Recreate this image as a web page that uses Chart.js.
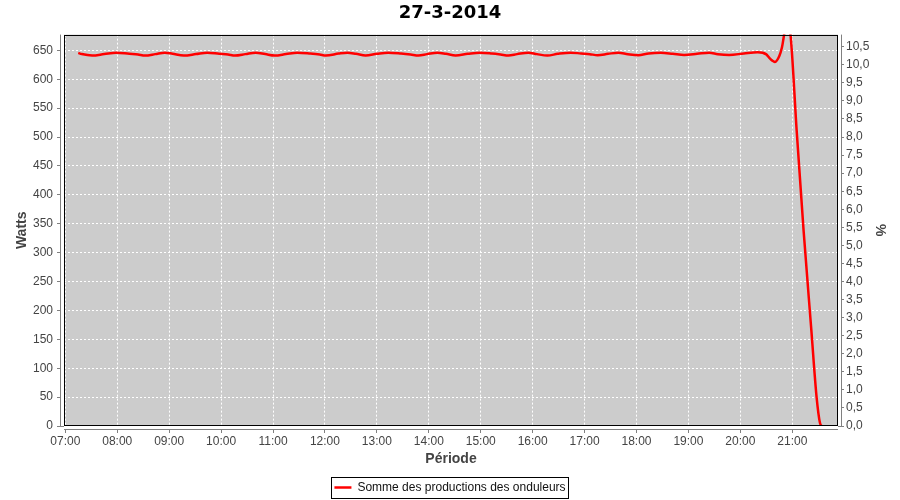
<!DOCTYPE html>
<html>
<head>
<meta charset="utf-8">
<script src="https://cdn.jsdelivr.net/npm/chart.js@4"></script>
<style>
  body { margin: 0; background: #fff; }
  canvas { display: block; }
</style>
</head>
<body>
<canvas id="prod-chart" width="900" height="500"></canvas>
<script>
const chartTitle = "27-3-2014";
const seriesLabel = "Somme des productions des onduleurs";

const hourTicks = [
  "07:00", "08:00", "09:00", "10:00", "11:00", "12:00", "13:00", "14:00",
  "15:00", "16:00", "17:00", "18:00", "19:00", "20:00", "21:00",
];

const times = [
  "07:15", "07:19", "07:31", "07:45", "07:59", "08:14", "08:24", "08:32",
  "08:44", "08:55", "09:04", "09:17", "09:31", "09:44", "09:58", "10:08",
  "10:16", "10:28", "10:40", "10:51", "11:02", "11:15", "11:28", "11:43",
  "11:54", "12:01", "12:16", "12:26", "12:36", "12:47", "13:00", "13:13",
  "13:28", "13:39", "13:48", "13:58", "14:10", "14:20", "14:31", "14:45",
  "14:59", "15:13", "15:23", "15:32", "15:42", "15:55", "16:05", "16:17",
  "16:29", "16:44", "16:56", "17:06", "17:15", "17:27", "17:39", "17:50",
  "18:02", "18:14", "18:28", "18:42", "18:55", "19:10", "19:24", "19:34",
  "19:47", "20:04", "20:20", "20:30", "20:34", "20:40", "20:45", "20:48",
  "20:54", "20:58", "21:05", "21:13", "21:22", "21:28", "21:32", "21:34",
];

const watts = [
  645.5, 643.5, 641, 643.5, 646, 644, 642.8, 641,
  643.4, 646, 644, 641, 643.5, 646, 644, 642.8,
  641, 643.4, 646, 643.5, 641, 643.5, 646, 644.5,
  642.8, 641, 644.5, 646, 643.9, 641, 643.9, 646,
  644.5, 642.8, 641, 643.4, 646, 643.9, 641, 643.9,
  646, 644.5, 642.8, 641, 643.4, 646, 643.4, 641,
  643.9, 646, 644.5, 643.4, 641.6, 643.9, 646, 643.4,
  641.6, 644.5, 645.6, 643.9, 642, 643.9, 646, 643.4,
  642, 644.5, 646.5, 643, 636, 630, 640, 655,
  700, 676, 512, 339, 166, 51, 5, 0,
];

const toMin = (hhmm) => {
  const [h, m] = hhmm.split(":").map(Number);
  return h * 60 + m;
};
const fmtTime = (v) => {
  const h = Math.floor(v / 60);
  const m = Math.round(v - h * 60);
  return String(h).padStart(2, "0") + ":" + String(m).padStart(2, "0");
};

// gray plot background, offset axis lines, black frame, legend frame
const plotFrame = {
  id: "plotFrame",
  beforeDraw(chart) {
    const { ctx, chartArea: a } = chart;
    ctx.save();
    ctx.fillStyle = "#cccccc";
    ctx.fillRect(a.left, a.top, a.width, a.height);
    ctx.restore();
  },
  afterDraw(chart) {
    const { ctx, chartArea: a } = chart;
    ctx.save();
    ctx.fillStyle = "#fff";
    ctx.fillRect(a.left - 4, a.top, 4, a.height);
    ctx.fillRect(a.right, a.top, 4, a.height);
    ctx.fillRect(a.left, a.bottom, a.width, 4);

    ctx.lineWidth = 1;
    ctx.strokeStyle = "#808080";
    ctx.beginPath();
    ctx.moveTo(a.left - 3.5, a.top);
    ctx.lineTo(a.left - 3.5, a.bottom);
    ctx.moveTo(a.right + 3.5, a.top);
    ctx.lineTo(a.right + 3.5, a.bottom);
    ctx.moveTo(a.left, a.bottom + 3.5);
    ctx.lineTo(a.right, a.bottom + 3.5);
    ctx.stroke();

    ctx.strokeStyle = "#000";
    ctx.strokeRect(Math.round(a.left) + 0.5, Math.round(a.top) + 0.5,
      Math.round(a.width) - 1, Math.round(a.height) - 1);

    const hb = chart.legend.legendHitBoxes[0];
    if (hb) {
      ctx.strokeRect(Math.round(hb.left) - 2.5, Math.round(hb.top) - 4.5,
        Math.round(hb.width) + 6, Math.round(hb.height) + 9);
    }
    ctx.restore();
  },
};

Chart.defaults.font.family = "'Liberation Sans', Arial, sans-serif";
Chart.defaults.font.size = 12;
Chart.defaults.color = "#444";

const ctx = document.getElementById("prod-chart").getContext("2d");
new Chart(ctx, {
  type: "line",
  data: {
    datasets: [
      {
        label: seriesLabel,
        data: times.map((t, i) => ({ x: toMin(t), y: watts[i] })),
        borderColor: "#ff0000",
        backgroundColor: "#ff0000",
        borderWidth: 2.5,
        pointRadius: 0,
        cubicInterpolationMode: "monotone",
        clip: { left: 5, top: 0, right: 5, bottom: 3 },
        yAxisID: "y",
      },
    ],
  },
  options: {
    responsive: false,
    animation: false,
    devicePixelRatio: 1,
    layout: { padding: { top: 0, left: 0, right: 0, bottom: -3.5 } },
    plugins: {
      title: {
        display: true,
        text: chartTitle,
        color: "#000",
        font: { family: "'DejaVu Sans', sans-serif", size: 18, weight: "bold" },
        padding: { top: 2.5, bottom: 10.5 },
      },
      legend: {
        position: "bottom",
        labels: {
          usePointStyle: true,
          pointStyle: "line",
          pointStyleWidth: 17,
          padding: 0,
          color: "#111",
          font: { size: 12 },
        },
      },
      tooltip: { enabled: false },
    },
    scales: {
      x: {
        type: "linear",
        min: 418.5,
        max: 1312.8,
        afterBuildTicks: (scale) => {
          scale.ticks = hourTicks.map((h) => ({ value: toMin(h) }));
        },
        afterFit: (scale) => {
          scale.height = 55.5;
        },
        ticks: {
          callback: (v) => fmtTime(v),
          padding: 1,
          maxRotation: 0,
          autoSkip: false,
        },
        grid: {
          color: "#ffffff",
          tickColor: "#808080",
          tickLength: 7,
          tickBorderDash: [],
        },
        border: { display: false, dash: [2, 2] },
        title: {
          display: true,
          text: "Période",
          font: { size: 14, weight: "bold" },
          padding: { top: 0, bottom: 14 },
        },
      },
      y: {
        position: "left",
        min: 0,
        max: 677.2,
        afterFit: (scale) => {
          scale.width = 64;
        },
        ticks: { stepSize: 50, includeBounds: false, padding: 4 },
        grid: {
          color: "#ffffff",
          tickColor: "#808080",
          tickLength: 7,
          tickBorderDash: [],
        },
        border: { display: false, dash: [2, 2] },
        title: {
          display: true,
          text: "Watts",
          font: { size: 14, weight: "bold" },
          padding: { top: 13.6, bottom: 0 },
        },
      },
      pct: {
        position: "right",
        min: 0,
        max: 10.835,
        afterFit: (scale) => {
          scale.width = 62;
        },
        ticks: {
          stepSize: 0.5,
          includeBounds: false,
          padding: 2,
          callback: (v) => v.toFixed(1).replace(".", ","),
        },
        grid: {
          drawOnChartArea: false,
          tickColor: "#808080",
          tickLength: 6,
        },
        border: { display: false },
        title: {
          display: true,
          text: "%",
          font: { size: 14, weight: "bold" },
          padding: { top: 11.6, bottom: 0 },
        },
      },
    },
  },
  plugins: [plotFrame],
});
</script>
</body>
</html>
